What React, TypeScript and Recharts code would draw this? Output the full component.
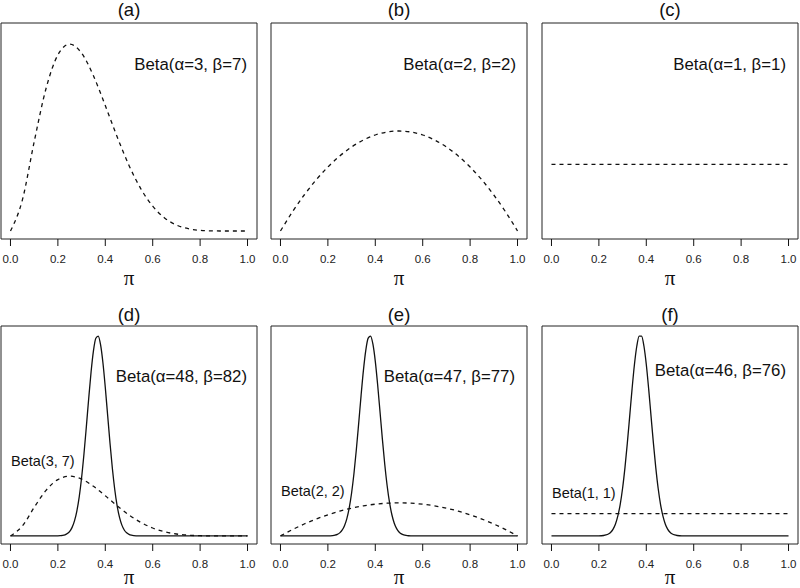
import React from 'react'
import { LineChart, Line, XAxis, YAxis, ReferenceArea } from 'recharts'

// prior curves, read every 0.05
const PRIOR_X = [0, 0.05, 0.1, 0.15, 0.2, 0.25, 0.3, 0.35, 0.4, 0.45, 0.5, 0.55, 0.6, 0.65, 0.7, 0.75, 0.8, 0.85, 0.9, 0.95, 1]
const BETA_3_7 = [0, 0.463, 1.339, 2.138, 2.642, 2.803, 2.668, 2.328, 1.881, 1.413, 0.984, 0.633, 0.372, 0.196, 0.09, 0.035, 0.01, 0.002, 0, 0, 0]
const BETA_2_2 = [0, 0.285, 0.54, 0.765, 0.96, 1.125, 1.26, 1.365, 1.44, 1.485, 1.5, 1.485, 1.44, 1.365, 1.26, 1.125, 0.96, 0.765, 0.54, 0.285, 0]
const FLAT_X = [0, 1]
const BETA_1_1 = [1, 1]

// posterior curves, finer around the peak
const POST_X = [
  0, 0.1, 0.2, 0.21, 0.22, 0.23, 0.24, 0.25, 0.26, 0.27, 0.28, 0.29, 0.3, 0.31, 0.32, 0.33, 0.34, 0.35, 0.36, 0.37,
  0.38, 0.39, 0.4, 0.41, 0.42, 0.43, 0.44, 0.45, 0.46, 0.47, 0.48, 0.49, 0.5, 0.51, 0.52, 0.53, 0.54, 0.55, 0.6, 0.8, 1,
]
const BETA_48_82 = [
  0, 0, 0.004, 0.011, 0.024, 0.053, 0.111, 0.216, 0.401, 0.704, 1.169, 1.836, 2.729, 3.841, 5.115, 6.447, 7.69, 8.681, 9.274, 9.376,
  8.972, 8.125, 6.964, 5.648, 4.336, 3.15, 2.166, 1.409, 0.868, 0.506, 0.279, 0.146, 0.072, 0.034, 0.015, 0.006, 0.002, 0.001, 0, 0, 0,
]
const BETA_47_77 = [
  0, 0, 0.002, 0.006, 0.015, 0.033, 0.069, 0.138, 0.259, 0.464, 0.788, 1.272, 1.948, 2.832, 3.909, 5.12, 6.369, 7.522, 8.433, 8.975,
  9.069, 8.699, 7.923, 6.85, 5.622, 4.381, 3.241, 2.277, 1.518, 0.961, 0.577, 0.33, 0.178, 0.092, 0.045, 0.021, 0.009, 0.004, 0, 0, 0,
]
const BETA_46_76 = [
  0, 0, 0.003, 0.008, 0.019, 0.042, 0.085, 0.166, 0.306, 0.537, 0.897, 1.421, 2.139, 3.063, 4.164, 5.377, 6.6, 7.694, 8.524, 8.972,
  8.972, 8.524, 7.694, 6.6, 5.377, 4.164, 3.063, 2.139, 1.421, 0.897, 0.537, 0.306, 0.166, 0.085, 0.042, 0.019, 0.008, 0.003, 0, 0, 0,
]

const X_TICKS = [0, 0.2, 0.4, 0.6, 0.8, 1]
const TITLES = ['(a)', '(b)', '(c)', '(d)', '(e)', '(f)']
const MAIN_LABELS = ['Beta(α=3, β=7)', 'Beta(α=2, β=2)', 'Beta(α=1, β=1)', 'Beta(α=48, β=82)', 'Beta(α=47, β=77)', 'Beta(α=46, β=76)']
const PRIOR_LABELS = ['Beta(3, 7)', 'Beta(2, 2)', 'Beta(1, 1)']
const Y_MAX = [3, 3, 3, 9.47, 9.16, 9.06]

const pts = (xs: number[], ys: number[]) => xs.map((x, i) => ({ x, y: ys[i] }))

const FONT = '"Liberation Sans", Arial, Helvetica, sans-serif'
const INK = '#111'

interface Curve { data: { x: number; y: number }[]; dashed: boolean; smooth: boolean }

const PANEL_LEFT = [0, 270, 541]
const MAIN_POS = [
  { right: 247, cy: 65 }, { right: 516, cy: 65 }, { right: 786, cy: 65 },
  { right: 247, cy: 377 }, { right: 515, cy: 377 }, { right: 786, cy: 371 },
]
const PRIOR_POS = [{ left: 11, cy: 461 }, { left: 281, cy: 491 }, { left: 552, cy: 493 }]

function Panel({ idx, curves }: { idx: number; curves: Curve[] }) {
  const row = idx < 3 ? 0 : 1
  const col = idx % 3
  const top = row === 0 ? 0 : 300
  const height = row === 0 ? 290 : 288
  const mTop = row === 0 ? 23 : 26
  const mBottom = row === 0 ? 21 : 14
  const ymax = Y_MAX[idx]
  const lo = -0.04 * ymax
  const hi = 1.04 * ymax
  const left = PANEL_LEFT[col]
  const boxBottom = top + height - mBottom - 30
  const titleCy = row === 0 ? 10 : 315
  const piCy = row === 0 ? 278 : 577
  return (
    <>
      <div style={{ position: 'absolute', left, top, width: 258, height }}>
        <LineChart width={258} height={height} margin={{ top: mTop, right: 1, left: 1, bottom: mBottom }}>
          <XAxis
            type="number"
            dataKey="x"
            domain={[-0.04, 1.04]}
            ticks={X_TICKS}
            allowDataOverflow
            axisLine={false}
            tickSize={7}
            tickMargin={9}
            height={30}
            tickLine={{ stroke: INK }}
            tick={{ fontSize: 11.5, fill: '#222', fontFamily: FONT }}
            tickFormatter={(v: number) => v.toFixed(1)}
          />
          <YAxis type="number" dataKey="y" domain={[lo, hi]} hide allowDataOverflow />
          <ReferenceArea x1={-0.04} x2={1.04} y1={lo} y2={hi} fill="none" stroke="#222" strokeWidth={1} ifOverflow="visible" />
          {curves.map((c, i) => (
            <Line
              key={i}
              data={c.data}
              dataKey="y"
              type={c.smooth ? 'monotone' : 'linear'}
              stroke={INK}
              strokeWidth={1.3}
              strokeDasharray={c.dashed ? '4 4' : undefined}
              dot={false}
              activeDot={false}
              isAnimationActive={false}
            />
          ))}
        </LineChart>
      </div>
      <div style={{ position: 'absolute', left, width: 258, top: titleCy - 10, height: 20, lineHeight: '20px', textAlign: 'center', fontFamily: FONT, fontSize: 18.5, color: '#111' }}>
        {TITLES[idx]}
      </div>
      <div style={{ position: 'absolute', left, width: 258, top: piCy - 11, height: 22, lineHeight: '22px', textAlign: 'center', fontFamily: '"Liberation Serif", "DejaVu Serif", serif', fontSize: 21, color: '#111' }}>
        π
      </div>
      <div style={{ position: 'absolute', left: MAIN_POS[idx].right - 220, width: 220, top: MAIN_POS[idx].cy - 12, height: 24, lineHeight: '24px', textAlign: 'right', fontFamily: FONT, fontSize: 16.8, color: '#111', whiteSpace: 'nowrap' }}>
        {MAIN_LABELS[idx]}
      </div>
      {row === 1 && (
        <div style={{ position: 'absolute', left: PRIOR_POS[col].left, top: PRIOR_POS[col].cy - 10, height: 20, lineHeight: '20px', fontFamily: FONT, fontSize: 14.5, color: '#111', whiteSpace: 'nowrap' }}>
          {PRIOR_LABELS[col]}
        </div>
      )}
    </>
  )
}

export default function App() {
  const prior37 = pts(PRIOR_X, BETA_3_7)
  const prior22 = pts(PRIOR_X, BETA_2_2)
  const prior11 = pts(FLAT_X, BETA_1_1)
  return (
    <div style={{ position: 'absolute', left: 0, top: 0, width: 800, height: 588, background: '#fff', overflow: 'hidden' }}>
      <Panel idx={0} curves={[{ data: prior37, dashed: true, smooth: true }]} />
      <Panel idx={1} curves={[{ data: prior22, dashed: true, smooth: true }]} />
      <Panel idx={2} curves={[{ data: prior11, dashed: true, smooth: false }]} />
      <Panel idx={3} curves={[{ data: prior37, dashed: true, smooth: true }, { data: pts(POST_X, BETA_48_82), dashed: false, smooth: true }]} />
      <Panel idx={4} curves={[{ data: prior22, dashed: true, smooth: true }, { data: pts(POST_X, BETA_47_77), dashed: false, smooth: true }]} />
      <Panel idx={5} curves={[{ data: prior11, dashed: true, smooth: false }, { data: pts(POST_X, BETA_46_76), dashed: false, smooth: true }]} />
    </div>
  )
}
